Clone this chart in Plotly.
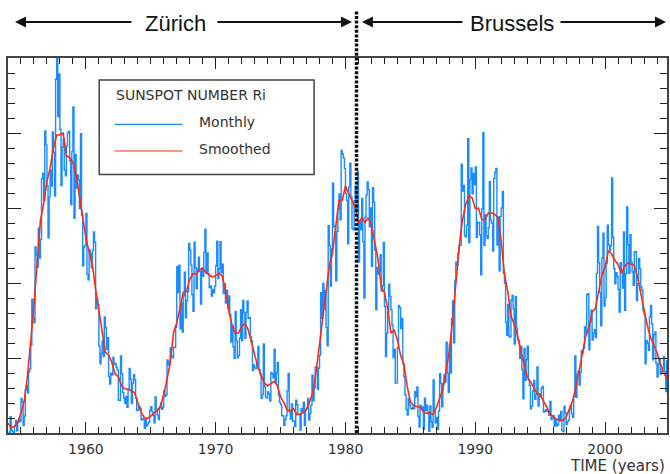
import plotly.graph_objects as go

# ---------------- data (monthly sunspot number Ri) ----------------
monthly_start_year = 1954
monthly_1954_1959 = [
    0.2, 0.5, 10.9, 1.8, 0.8, 0.2, 4.8, 8.4, 1.5, 7.0, 9.2, 7.6,
    23.1, 20.8, 4.9, 11.3, 28.9, 31.7, 26.7, 40.7, 42.7, 58.5, 89.2, 76.9,
    73.6, 124.0, 118.4, 110.7, 136.6, 116.6, 129.1, 169.6, 173.2, 155.3, 201.3, 192.1,
    165.0, 130.2, 157.4, 175.2, 164.6, 200.7, 187.2, 158.0, 235.8, 253.8, 210.9, 239.4,
    202.5, 164.9, 190.7, 196.0, 175.3, 171.5, 191.4, 200.2, 201.2, 181.5, 152.3, 187.6,
    217.4, 143.1, 185.7, 163.3, 172.0, 168.7, 149.6, 199.6, 145.2, 111.4, 124.0, 125.0,
]
monthly_1960s = [
    146.3, 106.0, 102.2, 122.0, 119.6, 110.2, 121.7, 134.1, 127.2, 82.8, 89.6, 85.6,
    57.9, 46.1, 53.0, 61.4, 51.0, 77.4, 70.2, 55.8, 63.6, 37.7, 32.6, 39.9,
    38.7, 50.3, 45.6, 46.4, 43.7, 42.0, 21.8, 21.8, 51.3, 39.5, 26.9, 23.2,
    19.8, 24.4, 17.1, 29.3, 43.0, 35.9, 19.6, 33.2, 38.8, 35.3, 23.4, 14.9,
    15.3, 17.7, 16.5, 8.6, 9.5, 9.1, 3.1, 9.3, 4.7, 6.1, 7.4, 15.1,
    17.5, 14.2, 11.7, 6.8, 24.1, 15.9, 11.9, 8.9, 16.8, 20.1, 15.8, 17.0,
    28.2, 24.4, 25.3, 48.7, 45.3, 47.7, 56.7, 51.2, 50.2, 57.2, 57.2, 70.4,
    110.9, 93.6, 111.8, 69.5, 86.5, 67.3, 91.5, 107.2, 76.8, 88.2, 94.3, 126.4,
    121.8, 111.9, 92.2, 81.2, 127.2, 110.3, 96.1, 109.3, 117.2, 107.7, 86.0, 109.8,
    104.4, 120.5, 135.8, 106.8, 120.0, 106.0, 96.8, 98.0, 91.3, 95.7, 93.5, 97.9,
]
monthly_1970s = [
    111.5, 127.8, 102.9, 109.5, 127.5, 106.8, 112.5, 93.0, 99.5, 86.6, 95.2, 83.5,
    91.3, 79.0, 60.7, 71.8, 57.5, 49.8, 81.0, 61.4, 50.2, 51.7, 63.2, 82.2,
    61.5, 88.4, 80.1, 63.2, 80.5, 88.0, 76.5, 76.8, 64.0, 61.3, 41.6, 45.3,
    43.4, 42.9, 46.0, 57.7, 42.4, 39.5, 23.1, 25.6, 59.3, 30.7, 23.9, 23.3,
    27.6, 26.0, 21.3, 40.3, 39.5, 36.6, 55.8, 33.6, 40.2, 47.1, 25.0, 20.5,
    18.9, 11.5, 11.5, 5.1, 9.0, 11.4, 28.2, 39.7, 13.9, 9.1, 19.4, 7.8,
    8.1, 4.3, 21.9, 18.8, 12.4, 12.2, 1.9, 16.4, 13.5, 20.6, 5.2, 15.3,
    16.4, 23.1, 8.7, 12.9, 18.6, 38.5, 21.4, 30.1, 44.0, 43.8, 29.1, 43.2,
    51.9, 93.6, 76.5, 99.7, 82.7, 95.1, 70.4, 58.1, 138.2, 125.1, 97.9, 122.7,
    166.6, 137.5, 138.0, 101.5, 134.4, 149.5, 159.4, 142.2, 188.4, 186.2, 183.3, 176.3,
]
monthly_1980s = [
    159.6, 155.0, 126.2, 164.1, 179.9, 157.3, 136.3, 135.4, 155.0, 164.7, 147.9, 174.4,
    114.0, 141.3, 135.5, 156.4, 127.5, 90.0, 143.8, 158.7, 167.3, 162.4, 137.5, 150.1,
    111.2, 163.6, 153.8, 122.0, 82.2, 110.4, 106.1, 107.6, 118.8, 94.7, 98.1, 127.0,
    84.3, 51.0, 66.5, 80.7, 99.2, 91.1, 82.2, 71.8, 50.3, 55.8, 33.3, 33.4,
    57.0, 85.1, 83.5, 69.7, 76.4, 46.1, 37.4, 25.5, 15.7, 12.0, 22.8, 18.7,
    16.5, 15.9, 17.2, 16.2, 27.5, 24.2, 30.7, 11.1, 3.9, 18.6, 16.2, 17.3,
    2.5, 23.2, 15.1, 18.5, 13.7, 1.1, 18.1, 7.4, 3.8, 35.4, 15.2, 6.8,
    10.4, 2.4, 14.7, 39.6, 33.0, 17.4, 33.0, 38.7, 33.9, 60.6, 39.9, 27.1,
    59.0, 40.0, 76.2, 88.0, 60.1, 101.8, 113.8, 111.6, 120.1, 125.1, 125.1, 179.2,
    161.3, 165.1, 131.4, 130.6, 138.5, 196.2, 126.9, 168.9, 176.7, 159.4, 173.0, 165.5,
]
monthly_1990s = [
    177.3, 130.5, 140.3, 140.3, 132.2, 105.4, 149.4, 200.3, 125.2, 145.5, 131.4, 129.7,
    136.9, 167.5, 141.9, 140.0, 121.3, 169.7, 173.7, 176.3, 125.3, 144.1, 108.2, 144.4,
    150.0, 161.1, 106.7, 99.8, 73.8, 65.2, 85.7, 64.5, 63.9, 88.7, 91.8, 82.6,
    59.3, 91.0, 69.8, 62.2, 61.3, 49.8, 57.9, 42.3, 22.8, 56.3, 35.2, 48.9,
    57.8, 35.5, 31.7, 16.1, 17.8, 28.0, 35.1, 22.5, 25.7, 44.0, 18.0, 26.2,
    24.2, 29.9, 31.1, 14.0, 14.5, 15.6, 14.5, 14.3, 11.8, 21.1, 9.0, 10.0,
    11.5, 4.4, 9.2, 4.8, 5.5, 11.8, 8.2, 14.4, 1.6, 0.9, 17.9, 13.3,
    5.7, 7.6, 8.7, 15.5, 18.5, 12.7, 10.4, 24.4, 51.3, 23.8, 39.0, 41.2,
    31.9, 40.3, 54.8, 53.4, 56.3, 70.7, 66.6, 92.2, 92.9, 55.5, 74.0, 81.9,
    62.0, 66.3, 68.8, 63.7, 106.4, 137.7, 113.5, 93.7, 71.5, 116.7, 133.2, 84.6,
]
monthly_2000s = [
    90.1, 112.9, 138.5, 125.5, 121.6, 124.9, 170.1, 130.5, 109.7, 99.4, 106.8, 104.4,
    95.6, 80.6, 113.5, 107.7, 96.6, 134.0, 81.8, 106.4, 150.7, 125.5, 106.5, 132.2,
    114.1, 107.4, 98.4, 120.7, 120.8, 88.3, 99.6, 116.4, 109.6, 97.5, 95.0, 81.6,
    79.5, 46.2, 61.5, 60.0, 55.2, 77.4, 85.0, 72.7, 48.8, 65.5, 67.3, 46.5,
    37.3, 45.8, 49.1, 39.3, 41.5, 43.2, 51.1, 40.9, 27.7, 48.0, 43.5, 17.9,
    31.5, 29.2, 24.5,
]

# smoothed sunspot number, one value per quarter starting 1954.0
smoothed_start_year = 1954
smoothed_1954_1963 = [
    6.5, 3.5, 4.4, 7.5, 13.3, 21.2, 38.0, 60.2, 84.6, 114.7, 141.7, 153.1,
    167.8, 176.9, 189.9, 198.6, 198.8, 199.8, 184.6, 183.6, 180.4, 172.2, 158.8, 142.8,
    130.1, 120.8, 112.3, 95.8, 82.3, 66.2, 53.9, 52.0, 47.2, 39.3, 37.6, 31.5,
    29.5, 29.2, 27.9, 26.9,
]
smoothed_1964_1973 = [
    20.2, 14.0, 10.2, 9.7, 11.3, 13.0, 15.1, 17.9, 25.8, 35.9, 46.9, 66.7,
    73.5, 83.3, 93.7, 94.5, 102.4, 106.3, 105.9, 108.8, 110.0, 106.9, 105.6, 104.0,
    104.9, 106.5, 104.7, 95.4, 81.7, 72.3, 66.7, 66.6, 71.0, 73.0, 68.9, 60.8,
    53.1, 44.0, 38.2, 33.4,
]
smoothed_1974_1983 = [
    31.4, 33.2, 34.5, 31.7, 24.1, 20.2, 15.5, 14.8, 16.3, 12.2, 12.6, 13.7,
    15.9, 21.2, 27.5, 42.0, 59.3, 73.5, 92.7, 111.0, 120.0, 138.6, 155.3, 155.2,
    164.8, 159.6, 154.7, 150.5, 139.9, 143.5, 140.4, 143.5, 138.6, 127.1, 116.3, 97.4,
    93.8, 83.1, 66.6, 68.6,
]
smoothed_1984_1993 = [
    62.1, 51.6, 45.8, 31.2, 20.8, 18.1, 17.9, 17.2, 14.3, 13.0, 13.4, 12.3,
    17.0, 23.4, 29.2, 41.5, 54.9, 74.9, 100.0, 123.6, 141.5, 152.1, 157.8, 157.0,
    149.7, 149.9, 142.3, 142.1, 146.6, 146.6, 145.8, 143.4, 127.4, 105.6, 94.5, 78.0,
    72.6, 65.0, 54.7, 46.8,
]
smoothed_1994_2005 = [
    37.5, 34.2, 29.9, 26.6, 25.1, 21.5, 17.5, 12.5, 10.7, 9.3, 8.6, 8.4,
    10.4, 15.6, 21.6, 30.3, 41.5, 55.3, 64.2, 70.1, 80.7, 82.9, 93.2, 105.2,
    110.6, 121.5, 119.5, 115.2, 112.4, 106.5, 110.9, 113.4, 112.7, 111.6, 104.1, 93.1,
    81.6, 71.7, 63.8, 59.2, 53.5, 46.3, 40.4, 36.5, 35.1,
]

x_range = [1954.0, 2004.77]
y_range = [0, 250]
station_change_year = 1980.85
x_tick_values = [1960, 1970, 1980, 1990, 2000]
x_tick_labels = ["1960", "1970", "1980", "1990", "2000"]

# ---------------- assemble series ----------------
monthly = (monthly_1954_1959 + monthly_1960s + monthly_1970s
           + monthly_1980s + monthly_1990s + monthly_2000s)
monthly_t = [monthly_start_year + (i + 0.5) / 12.0 for i in range(len(monthly))]

smoothed = (smoothed_1954_1963 + smoothed_1964_1973 + smoothed_1974_1983
            + smoothed_1984_1993 + smoothed_1994_2005)
smoothed_t = [smoothed_start_year + i * 0.25 for i in range(len(smoothed))]

BLUE = "#1a8cff"
RED = "#ff2a14"
INK = "#333333"
TXT_FONT = "DejaVu Sans"

W, H = 670, 474
ML, MR, MT, MB = 8, 1, 58, 41
PW, PH = W - ML - MR, H - MT - MB


def px(xp):
    return (xp - ML) / PW


def py(yp):
    return (H - MB - yp) / PH


fig = go.Figure()
fig.add_trace(go.Scatter(
    x=monthly_t, y=monthly, mode="lines", name="Monthly",
    line=dict(color=BLUE, width=1.4, shape="hvh"), showlegend=False,
))
fig.add_trace(go.Scatter(
    x=smoothed_t, y=smoothed, mode="lines", name="Smoothed",
    line=dict(color=RED, width=1.6), showlegend=False,
))

shapes = []
# station change (dotted vertical line)
shapes.append(dict(type="line", xref="x", yref="paper",
                   x0=station_change_year, x1=station_change_year,
                   y0=0, y1=py(10),
                   line=dict(color="#111111", width=3.5, dash="3px,1.6px")))
# legend box
shapes.append(dict(type="rect", xref="paper", yref="paper",
                   x0=px(99.5), x1=px(315), y0=py(174.5), y1=py(80),
                   line=dict(color="#444444", width=1.5), fillcolor="white",
                   layer="above"))
shapes.append(dict(type="line", xref="paper", yref="paper",
                   x0=px(115), x1=px(183), y0=py(124.3), y1=py(124.3),
                   line=dict(color=BLUE, width=1.2), layer="above"))
shapes.append(dict(type="line", xref="paper", yref="paper",
                   x0=px(115), x1=px(183), y0=py(151), y1=py(151),
                   line=dict(color=RED, width=1.2), layer="above"))

annotations = []
# legend texts
annotations.append(dict(xref="paper", yref="paper", x=px(114), y=py(94.5),
                        xanchor="left", yanchor="middle", showarrow=False,
                        text="SUNSPOT NUMBER Ri",
                        font=dict(family=TXT_FONT, size=14, color=INK)))
annotations.append(dict(xref="paper", yref="paper", x=px(198), y=py(122),
                        xanchor="left", yanchor="middle", showarrow=False,
                        text="Monthly",
                        font=dict(family=TXT_FONT, size=14, color=INK)))
annotations.append(dict(xref="paper", yref="paper", x=px(198), y=py(148.5),
                        xanchor="left", yanchor="middle", showarrow=False,
                        text="Smoothed",
                        font=dict(family=TXT_FONT, size=14, color=INK)))
# axis title
annotations.append(dict(xref="paper", yref="paper", x=px(669), y=py(466),
                        xanchor="right", yanchor="middle", showarrow=False,
                        text="TIME (years)",
                        font=dict(family=TXT_FONT, size=15, color=INK)))
# station labels
annotations.append(dict(xref="paper", yref="paper", x=px(176), y=py(23),
                        xanchor="center", yanchor="middle", showarrow=False,
                        text="Zürich",
                        font=dict(family="Liberation Sans", size=22, color="#111111")))
annotations.append(dict(xref="paper", yref="paper", x=px(514), y=py(23),
                        xanchor="center", yanchor="middle", showarrow=False,
                        text="Brussels",
                        font=dict(family="Liberation Sans", size=22, color="#111111")))
# arrows: (head, tail) in pixel positions
arrow_defs = [(15, 133), (353, 217), (363, 465), (668, 561)]
for head, tail in arrow_defs:
    annotations.append(dict(xref="paper", yref="paper", x=px(head), y=py(22),
                            ax=tail - head, ay=0, axref="pixel", ayref="pixel",
                            text="", showarrow=True, arrowhead=2, arrowsize=1.1,
                            arrowwidth=2, arrowcolor="#111111", standoff=0,
                            startstandoff=0))

axis_common = dict(showgrid=False, zeroline=False, showline=True,
                   linecolor="#444444", linewidth=1.5, mirror="allticks",
                   ticks="inside", tickcolor="#222222", tickwidth=1.2)

fig.update_layout(
    width=W, height=H,
    margin=dict(l=ML, r=MR, t=MT, b=MB, pad=0),
    paper_bgcolor="white", plot_bgcolor="white",
    shapes=shapes, annotations=annotations,
    xaxis=dict(range=x_range, tickvals=x_tick_values, ticktext=x_tick_labels,
               ticklen=11,
               minor=dict(dtick=1, ticks="inside", ticklen=6,
                          tickcolor="#222222", tickwidth=1.2, showgrid=False),
               tickfont=dict(family=TXT_FONT, size=14, color=INK),
               ticklabelstandoff=2,
               **axis_common),
    yaxis=dict(range=y_range, dtick=50, ticklen=13, showticklabels=False,
               minor=dict(dtick=10, ticks="inside", ticklen=7,
                          tickcolor="#222222", tickwidth=1.2, showgrid=False),
               **axis_common),
)

fig.write_html("out.html")
